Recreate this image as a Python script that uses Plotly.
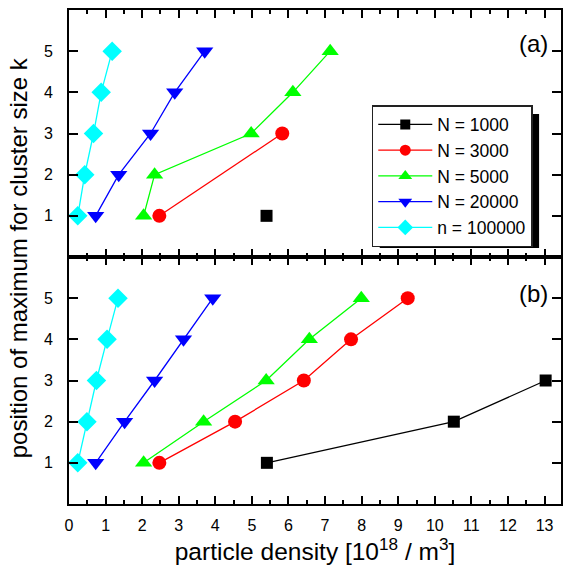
import plotly.graph_objects as go
from plotly.subplots import make_subplots

# ---- data ----
names = ["N = 1000", "N = 3000", "N = 5000", "N = 20000", "n = 100000"]
colors = ["#000000", "#FF0000", "#00FF00", "#0000FF", "#00FFFF"]
symbols = ["square", "circle", "triangle-up", "triangle-down", "diamond"]
msizes = [12, 14, 15, 15, 15]
legend_msizes = [10, 11, 12, 12, 12]

# panel (a)
a_x_1000 = [5.4]
a_k_1000 = [1]
a_x_3000 = [2.47, 5.83]
a_k_3000 = [1, 3]
a_x_5000 = [2.04, 2.34, 4.98, 6.12, 7.14]
a_k_5000 = [1, 2, 3, 4, 5]
a_x_20000 = [0.73, 1.36, 2.23, 2.89, 3.71]
a_k_20000 = [1, 2, 3, 4, 5]
a_x_100000 = [0.24, 0.43, 0.67, 0.88, 1.18]
a_k_100000 = [1, 2, 3, 4, 5]

# panel (b)
b_x_1000 = [5.41, 10.52, 13.03]
b_k_1000 = [1, 2, 3]
b_x_3000 = [2.47, 4.54, 6.42, 7.71, 9.26]
b_k_3000 = [1, 2, 3, 4, 5]
b_x_5000 = [2.04, 3.68, 5.39, 6.57, 7.99]
b_k_5000 = [1, 2, 3, 4, 5]
b_x_20000 = [0.73, 1.52, 2.34, 3.13, 3.93]
b_k_20000 = [1, 2, 3, 4, 5]
b_x_100000 = [0.24, 0.49, 0.75, 1.04, 1.34]
b_k_100000 = [1, 2, 3, 4, 5]

x_ticks = list(range(0, 14))
y_ticks = [1, 2, 3, 4, 5]

panel_a = [(a_x_1000, a_k_1000), (a_x_3000, a_k_3000), (a_x_5000, a_k_5000),
           (a_x_20000, a_k_20000), (a_x_100000, a_k_100000)]
panel_b = [(b_x_1000, b_k_1000), (b_x_3000, b_k_3000), (b_x_5000, b_k_5000),
           (b_x_20000, b_k_20000), (b_x_100000, b_k_100000)]

FONT = "Liberation Sans, Arial, sans-serif"

fig = make_subplots(rows=2, cols=1, shared_xaxes=True, vertical_spacing=0)

for i, (xs, ks) in enumerate(panel_a):
    fig.add_trace(go.Scatter(x=xs, y=ks, mode="lines+markers", name=names[i],
                             line=dict(color=colors[i], width=1.3),
                             marker=dict(color=colors[i], symbol=symbols[i], size=msizes[i]),
                             showlegend=False), row=1, col=1)
for i, (xs, ks) in enumerate(panel_b):
    fig.add_trace(go.Scatter(x=xs, y=ks, mode="lines+markers", name=names[i],
                             line=dict(color=colors[i], width=1.3),
                             marker=dict(color=colors[i], symbol=symbols[i], size=msizes[i]),
                             showlegend=False), row=2, col=1)
# legend-only entries (no points) so the legend symbols match the original's size
for i in range(len(names)):
    fig.add_trace(go.Scatter(x=[None], y=[None], mode="lines+markers", name=names[i],
                             line=dict(color=colors[i], width=1.3),
                             marker=dict(color=colors[i], symbol=symbols[i], size=legend_msizes[i]),
                             showlegend=True), row=1, col=1)

xcommon = dict(range=[0, 13.45], tickvals=x_ticks, ticks="inside", ticklen=8, tickwidth=1.5,
               tickcolor="black", showline=True, linecolor="black", linewidth=2,
               mirror="allticks", showgrid=False, zeroline=False,
               minor=dict(dtick=0.5, tick0=0, ticks="inside", ticklen=4, tickwidth=1.5, tickcolor="black"),
               tickfont=dict(family=FONT, size=16, color="black"))
ycommon = dict(range=[0, 6], tickvals=y_ticks, ticks="inside", ticklen=9, tickwidth=1.5,
               tickcolor="black", showline=True, linecolor="black", linewidth=2,
               mirror="allticks", showgrid=False, zeroline=False,
               tickfont=dict(family=FONT, size=16, color="black"), ticklabelstandoff=11)

fig.update_xaxes(**xcommon)
fig.update_xaxes(showticklabels=False, row=1, col=1)
fig.update_xaxes(ticklabelstandoff=6,
                 title=dict(text="particle density [10<sup>18</sup> / m<sup>3</sup>]",
                            font=dict(family=FONT, size=24.5, color="black"), standoff=8),
                 row=2, col=1)
fig.update_yaxes(**ycommon)

# pixel helpers (plot area: x 69..563, y 10..504)
W = 564 - 69 - 1
H = 579 - 10 - 75
def px_to_paper_x(px):
    return (px - 69) / W
def px_to_paper_y(py):
    return (579 - 75 - py) / H

LEG_L, LEG_T = 373, 105
fig.update_layout(
    width=564, height=579,
    margin=dict(l=69, r=1, t=10, b=75),
    paper_bgcolor="white", plot_bgcolor="white",
    font=dict(family=FONT, color="black"),
    legend=dict(x=px_to_paper_x(LEG_L), y=px_to_paper_y(LEG_T), xanchor="left", yanchor="top",
                bgcolor="white", bordercolor="#222222", borderwidth=1.5,
                font=dict(family=FONT, size=17.5, color="black"),
                tracegroupgap=0, itemwidth=54),
    annotations=[
        dict(text="position of maximum for cluster size k", xref="paper", yref="paper",
             x=-0.101, y=0.498, xanchor="center", yanchor="middle", textangle=-90,
             showarrow=False, font=dict(family=FONT, size=24, color="black")),
        dict(text="(a)", xref="paper", yref="paper", x=0.978, y=0.933,
             xanchor="right", yanchor="middle", showarrow=False,
             font=dict(family=FONT, size=24, color="black")),
        dict(text="(b)", xref="paper", yref="paper", x=0.978, y=0.427,
             xanchor="right", yanchor="middle", showarrow=False,
             font=dict(family=FONT, size=24, color="black")),
    ],
)

# legend drop shadow
LEG_W, LEG_H = 160, 134
fig.add_shape(type="rect", xref="paper", yref="paper",
              x0=px_to_paper_x(LEG_L + 8), x1=px_to_paper_x(LEG_L + LEG_W + 8),
              y0=px_to_paper_y(LEG_T + LEG_H + 9), y1=px_to_paper_y(LEG_T + 9),
              fillcolor="black", line=dict(width=0), layer="above")

fig.write_html("out.html")
